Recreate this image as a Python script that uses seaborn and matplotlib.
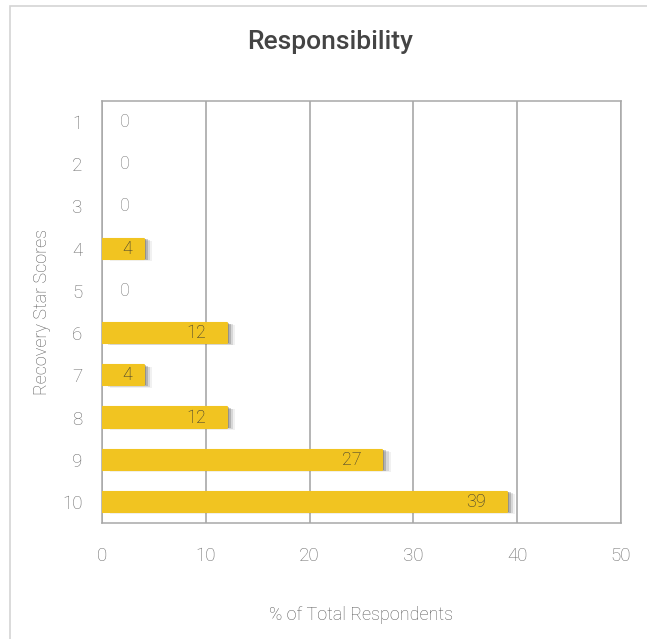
import matplotlib
matplotlib.use("Agg")
import matplotlib.pyplot as plt
import matplotlib.patheffects as pe
from matplotlib.patches import Rectangle
import seaborn as sns
import pandas as pd

# Recovery Star responsibility scores
scores = ["1", "2", "3", "4", "5", "6", "7", "8", "9", "10"]
percent = [0, 0, 0, 4, 0, 12, 4, 12, 27, 39]
x_ticks = [0, 10, 20, 30, 40, 50]

df = pd.DataFrame({"score": scores, "percent": percent})

sns.set_theme(style="white")
plt.rcParams["font.family"] = ["Roboto", "DejaVu Sans"]

fig = plt.figure(figsize=(6.47, 6.39), dpi=100)
ax = fig.add_axes([0.1577, 0.1815, 0.8021, 0.6605])

bar_color = "#F1C421"
sns.barplot(data=df, y="score", x="percent", order=scores, orient="h",
            color=bar_color, saturation=1, width=0.48, ax=ax, zorder=3)

# soft drop shadow built from a few stacked offsets
shadow = [
    pe.SimplePatchShadow(offset=(6, -1.5), shadow_rgbFace="#555555", alpha=0.08),
    pe.SimplePatchShadow(offset=(4.5, -1), shadow_rgbFace="#444444", alpha=0.15),
    pe.SimplePatchShadow(offset=(3, -0.5), shadow_rgbFace="#444444", alpha=0.25),
    pe.SimplePatchShadow(offset=(1.5, 0), shadow_rgbFace="#444444", alpha=0.3),
    pe.Normal(),
]
for p, v in zip(ax.patches, percent):
    if v == 0:
        p.set_visible(False)
        continue
    p.set_edgecolor(bar_color)
    p.set_linewidth(1.5)
    p.set_joinstyle("round")
    p.set_path_effects(shadow)

# value labels
label_font = dict(fontsize=13, fontweight="light", zorder=5, va="center")
for i, v in enumerate(percent):
    if v == 0:
        ax.annotate(str(v), (0, i), xytext=(12.5, 0), textcoords="offset points",
                    ha="left", color="#7a7a7a", **label_font)
    elif v < 8:
        ax.annotate(str(v), (v, i), xytext=(-12, 0), textcoords="offset points",
                    ha="center", color="#333333", **label_font)
    else:
        ax.annotate(str(v), (v, i), xytext=(-15, 0), textcoords="offset points",
                    ha="right", color="#333333", **label_font)

ax.set_xlim(0, 50)
ax.set_ylim(9.5, -0.5)
ax.set_xticks(x_ticks)
ax.set_xticklabels([str(t) for t in x_ticks])
ax.tick_params(axis="both", length=0, labelsize=13.5, colors="#6a6a6a")
ax.tick_params(axis="x", pad=17)
ax.tick_params(axis="y", pad=14)
for lbl in ax.get_xticklabels() + ax.get_yticklabels():
    lbl.set_fontweight("light")

ax.grid(axis="x", color="#a0a0a0", linewidth=1.1, zorder=0)
ax.set_axisbelow(True)
for s in ax.spines.values():
    s.set_color("#a8a8a8")
    s.set_linewidth(1.1)

ax.set_xlabel("% of Total Respondents", fontsize=13, color="#5a5a5a",
              fontweight="light", labelpad=30)
ax.set_ylabel("Recovery Star Scores", fontsize=13, color="#5a5a5a",
              fontweight="light", labelpad=8)

fig.text(0.51, 0.934, "Responsibility", ha="center", va="center",
         fontsize=19, fontweight="medium", color="#444444")

# outer chart frame
fig.patches.append(Rectangle((10 / 647, -0.05), 1.2, 1 - 6 / 639 + 0.05,
                             transform=fig.transFigure, fill=False,
                             edgecolor="#d4d4d4", linewidth=1.2))

fig.savefig("out.png", dpi=100)
